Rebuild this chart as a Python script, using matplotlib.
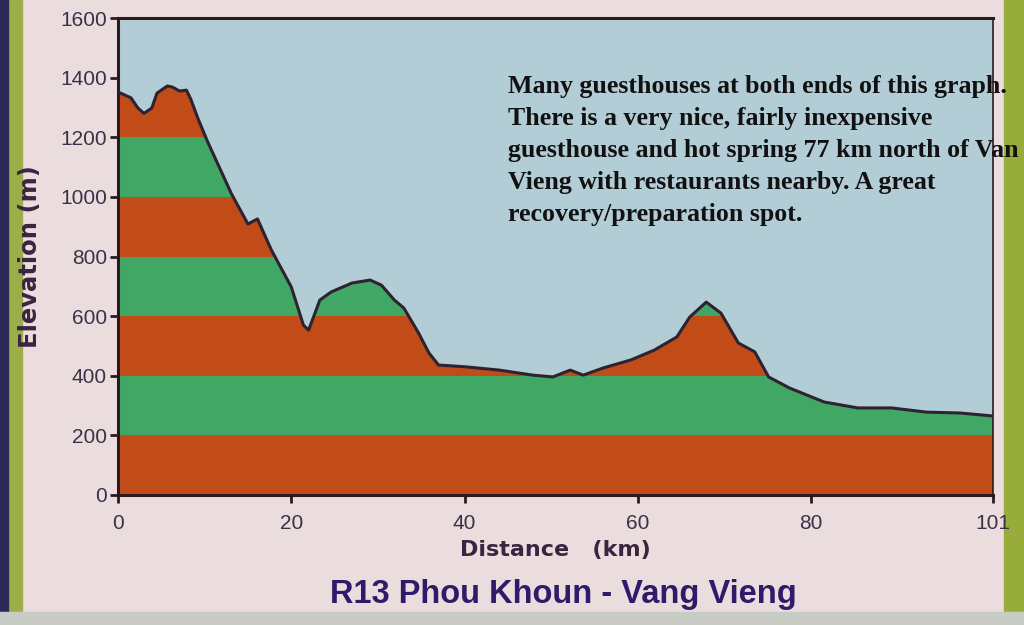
import numpy as np
import matplotlib
matplotlib.use("Agg")
import matplotlib.pyplot as plt
from matplotlib.patches import Rectangle

# ---- data ----
dist_km = [0, 1.5, 2.3, 3.0, 3.9, 4.5, 5.7, 6.3, 7.1, 7.9, 8.4, 9.2, 10.3, 13.1,
           15.0, 16.1, 17.7, 20.0, 21.4, 22.0, 23.3, 24.6, 27.0, 29.1, 30.4,
           31.9, 33.0, 34.7, 35.9, 37.0, 40.1, 44.0, 47.9, 50.2, 52.2, 53.7,
           56.0, 59.2, 61.9, 64.5, 66.0, 67.9, 69.6, 71.6, 73.5, 75.1, 77.5,
           81.5, 85.4, 89.3, 93.3, 97.2, 101]
elev_m = [1352, 1332, 1298, 1280, 1298, 1348, 1372, 1368, 1355, 1358, 1328, 1265,
          1188, 1010, 909, 926, 822, 698, 570, 553, 654, 681, 711, 721, 704,
          654, 627, 543, 476, 436, 430, 419, 402, 396, 419, 402, 426, 453, 486,
          530, 597, 647, 610, 510, 480, 396, 359, 312, 292, 292, 278, 275, 265]
x_ticks = [0, 20, 40, 60, 80, 101]
y_ticks = [0, 200, 400, 600, 800, 1000, 1200, 1400, 1600]
band_edges = [0, 200, 400, 600, 800, 1000, 1200, 1400, 1600]
band_colors = ["#C24C18", "#40A864"]  # alternating orange / green

title = "R13 Phou Khoun - Vang Vieng"
note = ("Many guesthouses at both ends of this graph.\n"
        "There is a very nice, fairly inexpensive\n"
        "guesthouse and hot spring 77 km north of Van\n"
        "Vieng with restaurants nearby. A great\n"
        "recovery/preparation spot.")

# ---- figure ----
fig = plt.figure(figsize=(10.24, 6.25), dpi=100)
fig.patch.set_facecolor("#EBDDDD")

# frame strips of the photographed panel
fig.add_artist(Rectangle((0, 0), 22 / 1024, 1, transform=fig.transFigure,
                         color="#9CAE48", zorder=0))
fig.add_artist(Rectangle((0, 0), 8 / 1024, 1, transform=fig.transFigure,
                         color="#2C2A5A", zorder=0))
fig.add_artist(Rectangle((1004 / 1024, 0), 20 / 1024, 1, transform=fig.transFigure,
                         color="#98AC3C", zorder=0))
fig.add_artist(Rectangle((0, 0), 1, 13 / 625, transform=fig.transFigure,
                         color="#C9CCC4", zorder=0))

ax = fig.add_axes([118 / 1024, 1 - 495 / 625, 875 / 1024, 477 / 625])
ax.set_facecolor("#B3CDD6")
ax.set_xlim(0, 101)
ax.set_ylim(0, 1600)

x = np.array(dist_km)
y = np.array(elev_m)

terrain = ax.fill_between(x, 0, y, color="none", lw=0)
clip_path = terrain.get_paths()[0]
for i in range(len(band_edges) - 1):
    span = ax.axhspan(band_edges[i], band_edges[i + 1],
                      color=band_colors[i % 2], lw=0, zorder=1)
    span.set_clip_path(clip_path, ax.transData)

ax.plot(x, y, color="#2E2230", lw=2.2, zorder=3, solid_joinstyle="round")

for s in ax.spines.values():
    s.set_color("#2A1A20")
    s.set_linewidth(2.2)
ax.spines["right"].set_linewidth(1.2)

lab_color = "#3E3048"
ax.set_xticks(x_ticks)
ax.set_yticks(y_ticks)
ax.tick_params(direction="out", length=6, width=2, color="#2A1A20",
               labelcolor=lab_color, labelsize=15)
ax.tick_params(axis="x", pad=8)
ax.tick_params(axis="y", pad=2)
for t in ax.get_xticklabels() + ax.get_yticklabels():
    t.set_family(["Liberation Sans", "DejaVu Sans"])

ax.set_ylabel("Elevation (m)", fontsize=17.5, fontweight="bold", color="#3A2440",
              family=["DejaVu Sans"], labelpad=13)
ax.set_xlabel("Distance   (km)", fontsize=16, fontweight="bold", color="#3A2440",
              family=["DejaVu Sans"], labelpad=5)

fig.text(563 / 1024, 1 - 595 / 625, title, ha="center", va="center",
         fontsize=23.5, fontweight="bold", color="#2E1C6A",
         family=["Liberation Sans", "DejaVu Sans"])

fig.text(508 / 1024, 1 - 75 / 625, note, ha="left", va="top",
         fontsize=18.6, fontweight="bold", color="#111111",
         family=["Liberation Serif", "DejaVu Serif"], linespacing=1.5, zorder=10)

fig.savefig("out.png", dpi=100, facecolor=fig.get_facecolor())
